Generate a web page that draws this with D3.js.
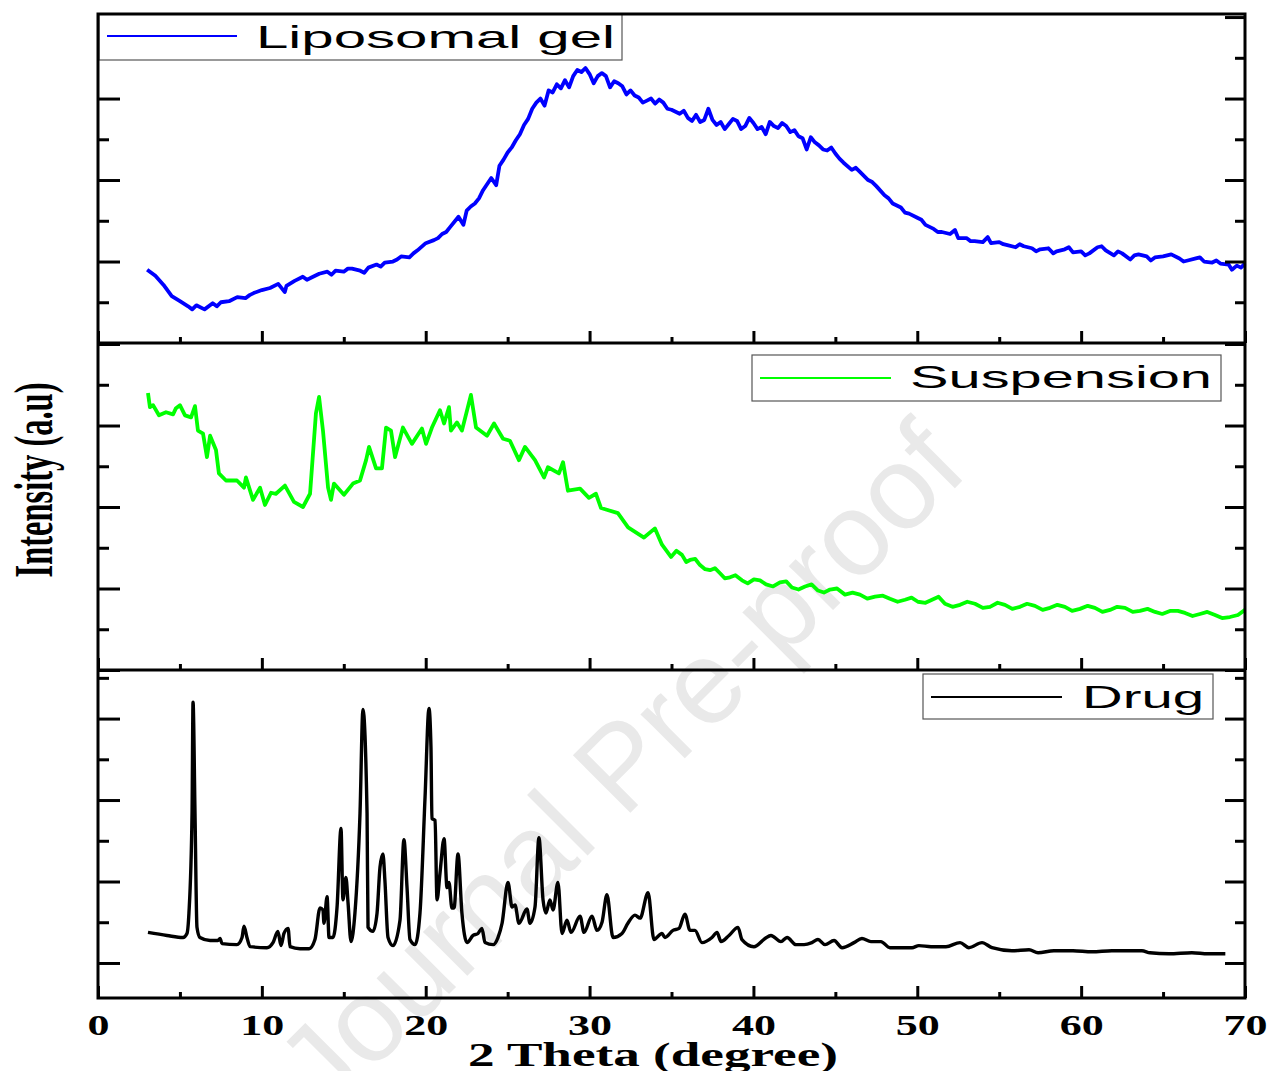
<!DOCTYPE html>
<html>
<head>
<meta charset="utf-8">
<script src="https://cdn.jsdelivr.net/npm/d3@7/dist/d3.min.js"></script>
<style>
  body { margin: 0; background: #fff; }
</style>
</head>
<body>
<div id="chart"></div>
<script>
// XRD patterns, 2 theta (degree) vs intensity (a.u)
// each point is [2 theta, intensity]

var gelPoints = [[3, 72], [3.5, 66], [4, 57], [4.5, 46], [5, 41], [5.5, 36], [5.75, 33], [6, 37], [6.5, 33],
  [7, 39], [7.25, 36], [7.5, 40], [8, 41], [8.5, 45], [9, 44], [9.25, 47], [9.5, 49], [10, 52], [10.5, 54],
  [11, 58], [11.4, 50], [11.5, 56], [12, 61], [12.5, 65], [12.75, 62], [13, 64], [13.5, 68], [14, 70],
  [14.25, 67], [14.5, 71], [15, 70], [15.25, 73], [15.5, 73], [16, 71], [16.25, 69], [16.5, 74], [17, 77],
  [17.25, 75], [17.5, 79], [18, 80], [18.25, 82], [18.5, 85], [19, 84], [19.25, 88], [19.5, 91], [20, 98],
  [20.5, 101], [20.75, 103], [21, 107], [21.25, 109], [21.5, 114], [22, 124], [22.3, 116], [22.5, 130],
  [22.75, 134], [23, 137], [23.25, 142], [23.5, 150], [24, 162], [24.3, 155], [24.5, 174], [24.75, 180],
  [25, 187], [25.25, 192], [25.5, 199], [25.75, 205], [26, 214], [26.25, 220], [26.5, 230], [26.75, 236],
  [27, 240], [27.25, 233], [27.5, 248], [27.75, 246], [28, 254], [28.25, 250], [28.5, 258], [28.75, 251],
  [29, 262], [29.25, 268], [29.5, 266], [29.75, 270], [30, 264], [30.25, 255], [30.5, 262], [30.75, 265],
  [31, 262], [31.25, 251], [31.5, 257], [31.75, 255], [32, 252], [32.25, 244], [32.5, 248], [32.75, 243],
  [33, 241], [33.25, 236], [33.5, 238], [33.75, 240], [34, 235], [34.25, 239], [34.5, 236], [34.75, 230],
  [35, 229], [35.25, 227], [35.5, 225], [35.75, 228], [36, 221], [36.25, 218], [36.5, 224], [36.75, 217],
  [37, 219], [37.25, 230], [37.5, 219], [37.75, 214], [38, 217], [38.25, 210], [38.5, 215], [38.75, 220],
  [39, 218], [39.25, 210], [39.5, 213], [39.75, 221], [40, 216], [40.25, 210], [40.5, 212], [40.75, 205],
  [41, 217], [41.25, 213], [41.5, 211], [41.75, 216], [42, 213], [42.25, 207], [42.5, 209], [42.75, 203],
  [43, 201], [43.25, 190], [43.5, 202], [43.75, 197], [44, 194], [44.25, 190], [44.5, 189], [44.75, 192],
  [45, 186], [45.25, 181], [45.5, 177], [46, 170], [46.25, 172], [46.5, 168], [47, 160], [47.25, 158],
  [47.5, 154], [48, 145], [48.25, 142], [48.5, 137], [49, 133], [49.25, 128], [49.5, 127], [50, 123],
  [50.25, 121], [50.5, 116], [51, 112], [51.25, 109], [51.5, 109], [52, 107], [52.3, 111], [52.5, 103],
  [53, 103], [53.25, 100], [53.5, 100], [54, 99], [54.3, 104], [54.5, 98], [55, 99], [55.25, 97], [55.5, 96],
  [56, 94], [56.25, 97], [56.5, 95], [57, 93], [57.25, 90], [57.5, 92], [58, 93], [58.3, 88], [58.5, 90],
  [59, 92], [59.25, 94], [59.5, 89], [60, 90], [60.25, 86], [60.5, 88], [61, 94], [61.25, 95], [61.5, 91],
  [62, 86], [62.25, 90], [62.5, 88], [63, 82], [63.25, 86], [63.5, 87], [64, 85], [64.25, 81], [64.5, 84],
  [65, 85], [65.25, 86], [65.5, 87], [66, 83], [66.25, 80], [66.5, 81], [67, 83], [67.25, 84], [67.5, 80],
  [68, 79], [68.25, 81], [68.5, 78], [69, 77], [69.2, 72], [69.5, 76], [69.75, 74], [70, 78]];

var suspPoints = [[3.05, 272], [3.17, 258], [3.36, 260], [3.72, 250], [4.15, 253], [4.58, 251], [4.76, 257],
  [5.0, 260], [5.31, 250], [5.68, 248], [5.92, 259], [6.1, 235], [6.41, 232], [6.65, 209], [6.84, 230],
  [7.2, 216], [7.38, 193], [7.81, 186], [8.48, 186], [8.91, 179], [9.03, 189], [9.46, 167], [9.89, 179],
  [10.19, 162], [10.56, 174], [10.86, 173], [11.41, 181], [11.96, 165], [12.51, 160], [12.94, 173],
  [13.3, 252], [13.49, 268], [13.73, 235], [14.04, 179], [14.22, 167], [14.4, 183], [15.01, 172],
  [15.56, 183], [15.99, 186], [16.36, 206], [16.54, 219], [16.97, 198], [17.33, 198], [17.58, 238],
  [17.88, 235], [18.13, 209], [18.61, 238], [19.16, 222], [19.77, 237], [20.02, 222], [20.38, 238],
  [20.87, 255], [21.12, 242], [21.42, 258], [21.54, 235], [21.91, 243], [22.21, 235], [22.76, 270],
  [23.07, 238], [23.74, 230], [24.17, 242], [24.72, 227], [25.14, 225], [25.69, 206], [26.06, 219],
  [26.67, 206], [27.22, 189], [27.46, 199], [28.13, 193], [28.38, 204], [28.68, 176], [29.42, 178],
  [29.96, 169], [30.39, 173], [30.7, 159], [31.73, 154], [32.35, 140], [33.32, 130], [33.99, 139],
  [34.42, 123], [34.97, 111], [35.3, 117], [35.64, 113], [35.9, 106], [36.13, 108], [36.45, 109],
  [36.74, 103], [37.05, 99], [37.35, 98], [37.65, 100], [37.96, 95], [38.25, 90], [38.57, 91], [38.9, 93],
  [39.3, 88], [39.65, 85], [40.03, 89], [40.4, 88], [40.77, 84], [41.2, 82], [41.62, 86], [42.0, 87],
  [42.35, 81], [42.75, 79], [43.15, 82], [43.55, 84], [43.94, 78], [44.3, 76], [44.67, 79], [45.1, 80],
  [45.59, 74], [46.05, 76], [46.5, 74], [46.95, 70], [47.42, 72], [47.9, 73], [48.33, 70], [48.8, 67],
  [49.25, 69], [49.65, 71], [50.04, 67], [50.5, 66], [50.9, 69], [51.3, 72], [51.69, 65], [52.15, 62],
  [52.61, 64], [53.05, 67], [53.52, 65], [54.0, 61], [54.44, 62], [54.9, 66], [55.35, 64], [55.8, 60],
  [56.27, 62], [56.7, 65], [57.18, 63], [57.65, 59], [58.1, 61], [58.55, 64], [59.01, 62], [59.45, 58],
  [59.93, 60], [60.4, 63], [60.84, 61], [61.3, 57], [61.76, 59], [62.2, 62], [62.68, 61], [63.15, 57],
  [63.59, 58], [64.05, 60], [64.51, 57], [64.95, 55], [65.42, 58], [65.9, 58], [66.34, 56], [66.8, 53],
  [67.25, 55], [67.7, 57], [68.17, 54], [68.6, 51], [69.08, 52], [69.57, 54], [70, 59]];

var drugPoints = [[3.05, 30], [4.21, 27], [5.19, 25], [5.43, 29], [5.55, 49], [5.74, 147], [5.8, 256],
  [5.92, 147], [6.04, 35], [6.22, 25], [6.84, 22], [7.32, 22], [7.45, 24], [7.57, 19], [8.48, 18],
  [8.79, 25], [8.91, 36], [9.09, 25], [9.28, 16], [10.31, 15], [10.68, 20], [10.98, 31], [11.17, 17],
  [11.35, 29], [11.6, 34], [11.72, 16], [12.33, 14], [12.88, 14], [13.24, 23], [13.55, 54], [13.73, 52],
  [13.79, 39], [13.98, 65], [14.1, 25], [14.34, 25], [14.59, 55], [14.83, 132], [14.95, 62], [15.13, 84],
  [15.26, 59], [15.44, 21], [15.68, 49], [15.99, 147], [16.17, 249], [16.42, 147], [16.48, 35], [16.78, 31],
  [17.03, 49], [17.21, 94], [17.39, 107], [17.51, 81], [17.7, 25], [18.0, 17], [18.43, 42], [18.67, 121],
  [18.86, 74], [19.04, 23], [19.35, 18], [19.65, 49], [19.96, 163], [20.2, 250], [20.32, 212], [20.38, 142],
  [20.57, 140], [20.69, 62], [20.87, 88], [21.12, 122], [21.3, 74], [21.42, 79], [21.6, 54], [21.73, 54],
  [21.97, 107], [22.21, 49], [22.52, 20], [22.89, 27], [23.19, 29], [23.43, 34], [23.62, 20], [24.11, 18],
  [24.41, 25], [24.66, 39], [25.02, 79], [25.27, 55], [25.45, 57], [25.69, 39], [26.18, 53], [26.36, 39],
  [26.67, 55], [26.91, 123], [27.16, 62], [27.34, 49], [27.58, 62], [27.77, 52], [28.07, 79], [28.32, 29],
  [28.62, 42], [28.87, 30], [29.42, 46], [29.66, 30], [30.15, 46], [30.45, 32], [30.76, 40], [31.06, 67],
  [31.43, 25], [31.98, 29], [32.34, 39], [32.77, 47], [33.08, 44], [33.57, 69], [33.93, 23], [34.42, 29],
  [34.6, 25], [35.09, 32], [35.46, 34], [35.82, 48], [36.13, 32], [36.43, 32], [36.86, 20], [37.47, 25],
  [37.78, 30], [38.02, 21], [38.51, 27], [39.06, 35], [39.3, 23], [40.03, 16], [40.71, 24], [41.07, 27],
  [41.68, 21], [42.05, 25], [42.6, 18], [43.09, 18], [43.57, 20], [43.94, 23], [44.37, 18], [44.92, 22],
  [45.41, 15], [46.14, 20], [46.62, 24], [47.17, 21], [47.78, 21], [48.33, 15], [49.68, 15], [50.1, 17],
  [50.84, 16], [51.75, 16], [52.61, 20], [53.15, 15], [53.95, 20], [54.56, 15], [55.78, 12], [56.82, 13],
  [57.37, 10], [58.34, 12], [59.5, 12], [60.66, 11], [61.88, 12], [63.71, 12], [64.2, 10], [65.36, 9],
  [66.76, 10], [67.74, 9], [68.8, 9]];

var xMajorTicks = [0, 10, 20, 30, 40, 50, 60, 70];
var xMinorTicks = [5, 15, 25, 35, 45, 55, 65];
var legendNames = ["Liposomal gel", "Suspension", "Drug"];

var svgWidth = 1272;
var svgHeight = 1071;
var plotLeft = 98;
var plotRight = 1245;

var svg = d3.select("#chart")
  .append("svg")
  .attr("width", svgWidth)
  .attr("height", svgHeight)
  .style("font-family", "'Liberation Sans', Arial, sans-serif");

var xScale = d3.scaleLinear()
  .domain([0, 70])
  .range([plotLeft, plotRight]);

// watermark sits under everything
svg.append("text")
  .attr("transform", "translate(620,765) rotate(-45)")
  .attr("text-anchor", "middle")
  .attr("dominant-baseline", "central")
  .attr("textLength", 910)
  .attr("lengthAdjust", "spacingAndGlyphs")
  .style("font-size", "118px")
  .style("fill", "#e9e9e9")
  .text("Journal Pre-proof");

var panels = [
  {pts: gelPoints, color: "#0000ff", top: 14, bottom: 343, domain: [0, 323], lw: 3.8, curve: d3.curveLinear,
    legend: {x0: 99, y0: 14, x1: 622, y1: 60, lineX0: 107, lineX1: 237, lineY: 36, textX: 256, textY: 48, textW: 359}},
  {pts: suspPoints, color: "#00ff00", top: 343, bottom: 670, domain: [0, 321], lw: 3.8, curve: d3.curveLinear,
    legend: {x0: 752, y0: 355, x1: 1221, y1: 401, lineX0: 760, lineX1: 891, lineY: 378, textX: 910, textY: 388, textW: 302}},
  {pts: drugPoints, color: "#000000", top: 670, bottom: 998, domain: [-34.4, 287.7], lw: 3.4, curve: d3.curveMonotoneX,
    legend: {x0: 923, y0: 674, x1: 1213, y1: 719, lineX0: 931, lineX1: 1062, lineY: 697, textX: 1082, textY: 708, textW: 122}}
];

panels.forEach(function(p, i) {
  var yScale = d3.scaleLinear()
    .domain(p.domain)
    .range([p.bottom, p.top]);

  var line = d3.line()
    .curve(p.curve)
    .x(d => xScale(d[0]))
    .y(d => yScale(d[1]));

  svg.append("path")
    .datum(p.pts)
    .attr("d", line)
    .attr("fill", "none")
    .attr("stroke", p.color)
    .attr("stroke-width", p.lw)
    .attr("stroke-linejoin", "round");

  // y ticks, every 40 units, long ones every 80
  var allY = d3.range(0, p.domain[1], 40);
  var majorY = allY.filter(v => v % 80 === 0);
  var minorY = allY.filter(v => v % 80 !== 0);

  var yAxes = [
    [d3.axisRight(yScale).tickValues(majorY).tickSize(22), plotLeft],
    [d3.axisRight(yScale).tickValues(minorY).tickSize(11), plotLeft],
    [d3.axisLeft(yScale).tickValues(majorY).tickSize(20), plotRight],
    [d3.axisLeft(yScale).tickValues(minorY).tickSize(10), plotRight]
  ];
  yAxes.forEach(function(a) {
    var g = svg.append("g")
      .attr("transform", `translate(${a[1]},0)`)
      .call(a[0].tickFormat(""));
    g.select(".domain").remove();
    g.selectAll("line").attr("stroke", "#000").attr("stroke-width", 3);
  });

  // x ticks point up from the bottom of every panel
  [[xMajorTicks, 12], [xMinorTicks, 6]].forEach(function(a) {
    var g = svg.append("g")
      .attr("transform", `translate(0,${p.bottom})`)
      .call(d3.axisTop(xScale).tickValues(a[0]).tickSize(a[1]).tickFormat(""));
    g.select(".domain").remove();
    g.selectAll("line").attr("stroke", "#000").attr("stroke-width", 3);
  });

  // legend
  var lg = p.legend;
  svg.append("rect")
    .attr("x", lg.x0)
    .attr("y", lg.y0)
    .attr("width", lg.x1 - lg.x0)
    .attr("height", lg.y1 - lg.y0)
    .attr("fill", "#fff")
    .attr("stroke", "#555")
    .attr("stroke-width", 1.2);
  svg.append("line")
    .attr("x1", lg.lineX0)
    .attr("x2", lg.lineX1)
    .attr("y1", lg.lineY)
    .attr("y2", lg.lineY)
    .attr("stroke", p.color)
    .attr("stroke-width", 2);
  svg.append("text")
    .attr("x", lg.textX)
    .attr("y", lg.textY)
    .attr("textLength", lg.textW)
    .attr("lengthAdjust", "spacingAndGlyphs")
    .style("font-size", "32px")
    .style("fill", "#000")
    .text(legendNames[i]);
});

// frame: outer box plus the two panel separators
svg.append("rect")
  .attr("x", plotLeft)
  .attr("y", 14)
  .attr("width", plotRight - plotLeft)
  .attr("height", 998 - 14)
  .attr("fill", "none")
  .attr("stroke", "#000")
  .attr("stroke-width", 3);
[343, 670].forEach(function(yy) {
  svg.append("line")
    .attr("x1", plotLeft)
    .attr("x2", plotRight)
    .attr("y1", yy)
    .attr("y2", yy)
    .attr("stroke", "#000")
    .attr("stroke-width", 3);
});

// x tick labels under the bottom panel
var xLabels = svg.append("g")
  .attr("transform", "translate(0,998)")
  .call(d3.axisBottom(xScale).tickValues(xMajorTicks).tickSize(0));
xLabels.select(".domain").remove();
xLabels.selectAll("text")
  .attr("y", 37)
  .attr("dy", 0)
  .attr("textLength", d => String(d).length * 22)
  .attr("lengthAdjust", "spacingAndGlyphs")
  .style("font-family", "'Liberation Serif', 'Times New Roman', serif")
  .style("font-weight", "bold")
  .style("font-size", "29px")
  .style("fill", "#000");

// axis titles
svg.append("text")
  .attr("x", 653)
  .attr("y", 1066)
  .attr("text-anchor", "middle")
  .attr("textLength", 370)
  .attr("lengthAdjust", "spacingAndGlyphs")
  .style("font-family", "'Liberation Serif', 'Times New Roman', serif")
  .style("font-weight", "bold")
  .style("font-size", "33px")
  .text("2 Theta (degree)");

svg.append("text")
  .attr("transform", "translate(52,480) rotate(-90)")
  .attr("text-anchor", "middle")
  .attr("textLength", 195)
  .attr("lengthAdjust", "spacingAndGlyphs")
  .style("font-family", "'Liberation Serif', 'Times New Roman', serif")
  .style("font-weight", "bold")
  .style("font-size", "54px")
  .text("Intensity (a.u)");
</script>
</body>
</html>
